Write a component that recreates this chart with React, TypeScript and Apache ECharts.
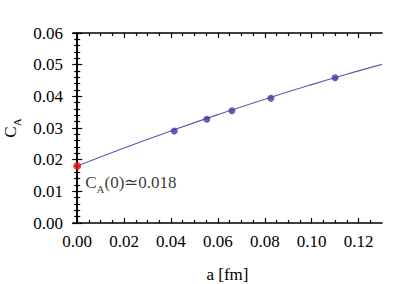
import React, { useEffect, useRef } from "react";
import * as echarts from "echarts";

// Data
const latticeA = [0.0414, 0.0553, 0.066, 0.0826, 0.11];
const latticeCA = [0.02905, 0.03274, 0.03546, 0.03937, 0.04588];
const fitA = [0, 0.02, 0.04, 0.06, 0.08, 0.1, 0.12, 0.13];
const fitCA = [0.018, 0.02368, 0.02908, 0.03422, 0.0391, 0.0437, 0.04804, 0.0501];
const extrapA = [0];
const extrapCA = [0.018];
const xMajorTicks = [0, 0.02, 0.04, 0.06, 0.08, 0.1, 0.12];
const xMinorTicks = [0.005, 0.01, 0.015, 0.025, 0.03, 0.035, 0.045, 0.05, 0.055, 0.065, 0.07, 0.075, 0.085, 0.09, 0.095, 0.105, 0.11, 0.115, 0.125];

const FONT = "Liberation Serif";
const FS = 17;

export default function App() {
  const ref = useRef<HTMLDivElement>(null);
  useEffect(() => {
    if (!ref.current) return;
    const chart = echarts.init(ref.current, undefined, { renderer: "svg" });
    const frame = { show: true, lineStyle: { color: "#000", width: 1.6 } };
    const xBase = {
      type: "value" as const,
      min: -0.0018,
      max: 0.13,
      gridIndex: 0,
      splitLine: { show: false },
    };
    const xMajor = (pos: "bottom" | "top", labels: boolean, name?: string) => ({
      ...xBase,
      position: pos,
      axisLine: frame,
      axisTick: { show: true, inside: true, length: 5, customValues: xMajorTicks, lineStyle: { color: "#000", width: 1.2 } },
      axisLabel: {
        show: labels,
        customValues: xMajorTicks,
        formatter: (v: number) => v.toFixed(2),
        fontFamily: FONT,
        fontSize: FS,
        color: "#000",
        margin: 10,
      },
      name: name,
      nameLocation: "middle" as const,
      nameGap: 43,
      nameTextStyle: { fontFamily: FONT, fontSize: FS, color: "#000" },
    });
    const xMinor = (pos: "bottom" | "top") => ({
      ...xBase,
      position: pos,
      axisLine: { show: false },
      axisTick: { show: true, inside: true, length: 3, customValues: xMinorTicks, lineStyle: { color: "#000", width: 1.2 } },
      axisLabel: { show: false },
    });
    const yAx = (pos: "left" | "right", labels: boolean) => ({
      type: "value" as const,
      position: pos,
      min: 0,
      max: 0.06,
      interval: 0.01,
      splitLine: { show: false },
      axisLine: frame,
      axisTick: { show: true, inside: true, length: 5, lineStyle: { color: "#000", width: 1.2 } },
      minorTick: { show: true, splitNumber: 5, length: 3, lineStyle: { color: "#000", width: 1.2 } },
      minorSplitLine: { show: false },
      axisLabel: {
        show: labels,
        formatter: (v: number) => v.toFixed(2),
        fontFamily: FONT,
        fontSize: FS,
        color: "#000",
        margin: 10,
      },
      name: labels ? "{m|C}{s|A}" : undefined,
      nameLocation: "middle" as const,
      nameRotate: 90,
      nameGap: 47,
      nameTextStyle: {
        fontFamily: FONT,
        color: "#000",
        rich: {
          m: { fontFamily: FONT, fontSize: FS, color: "#000", verticalAlign: "top" },
          s: { fontFamily: FONT, fontSize: 11, color: "#000", verticalAlign: "top", padding: [9, 0, 0, 0] },
        },
      },
    });
    chart.setOption({
      animation: false,
      backgroundColor: "#fff",
      textStyle: { fontFamily: FONT },
      grid: { left: 73, top: 33, right: 33, bottom: 61, containLabel: false, outerBoundsMode: "none" },
      xAxis: [xMajor("bottom", true, "a [fm]"), xMinor("bottom"), xMajor("top", false), xMinor("top")],
      yAxis: [yAx("left", true), yAx("right", false)],
      series: [
        {
          type: "line",
          data: fitA.map((a, i) => [a, fitCA[i]]),
          smooth: true,
          showSymbol: false,
          lineStyle: { color: "#5a5ab0", width: 1.1 },
          z: 2,
        },
        {
          type: "scatter",
          data: latticeA.map((a, i) => [a, latticeCA[i]]),
          symbolSize: 7,
          itemStyle: { color: "#3a3a9a" },
          z: 3,
        },
        {
          type: "scatter",
          data: extrapA.map((a, i) => [a, extrapCA[i]]),
          symbolSize: 8,
          itemStyle: { color: "#e8141c" },
          z: 4,
          label: {
            show: true,
            position: "right",
            distance: 4,
            offset: [0, 18],
            fontFamily: FONT,
            formatter: () => "{m|C}{s|A}{m|(0)≃0.018}",
            rich: {
              m: { fontFamily: FONT, fontSize: FS, color: "#000", verticalAlign: "top" },
              s: { fontFamily: FONT, fontSize: 11, color: "#000", verticalAlign: "top", padding: [9, 0, 0, 0] },
            },
          },
        },
      ],
    });
    return () => chart.dispose();
  }, []);
  return (
    <div
      ref={ref}
      style={{ position: "absolute", left: 0, top: 0, width: 415, height: 284 }}
    />
  );
}
